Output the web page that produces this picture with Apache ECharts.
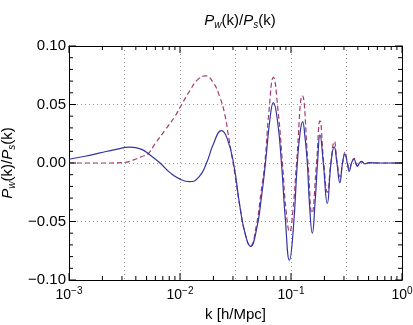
<!DOCTYPE html>
<html>
<head>
<meta charset="utf-8">
<script src="https://cdn.jsdelivr.net/npm/echarts@6/dist/echarts.min.js"></script>
<style>html,body{margin:0;padding:0;background:#fff;}#c{width:413px;height:325px;}</style>
</head>
<body>
<div id="c"></div>
<script>
// k values [h/Mpc] and ratio values
const kSolid = [0.001, 0.001393, 0.001901, 0.002594, 0.003548, 0.004457, 0.005370, 0.006607, 0.008128, 0.01,
  0.01219, 0.01483, 0.01734, 0.02004, 0.02366, 0.02649, 0.03034, 0.03475, 0.03855, 0.04315,
  0.04887, 0.05420, 0.05888, 0.06471, 0.06934, 0.07534, 0.08204, 0.08892, 0.09683, 0.1050,
  0.1140, 0.1205, 0.1271, 0.1337, 0.1403, 0.1469, 0.1556, 0.1644, 0.1734, 0.1824,
  0.1954, 0.2123, 0.2291, 0.2449, 0.2594, 0.2754, 0.2911, 0.3062, 0.3214, 0.3350,
  0.3508, 0.3698, 0.3828, 0.3954, 0.4140, 0.4315, 0.4645, 0.5047, 0.6339, 1.0];
const vSolid = [0.0032, 0.0058, 0.0086, 0.0114, 0.0135, 0.0119, 0.0068, 0.0, -0.0082, -0.0138,
  -0.0160, -0.0118, 0.0, 0.0165, 0.0277, 0.0215, 0.0, -0.038, -0.060, -0.0712,
  -0.057, -0.029, 0.0, 0.038, 0.0516, 0.037, 0.0, -0.048, -0.083, -0.056,
  0.0, 0.025, 0.0353, 0.022, 0.0, -0.036, -0.060, -0.035, 0.0, 0.024,
  0.0, -0.0345, 0.0, 0.0137, 0.0, -0.0168, 0.0, 0.0077, 0.0, -0.0071,
  0.0, 0.0034, 0.0, -0.0028, 0.0, 0.0012, -0.0008, 0.0003, 0.0, 0.0];

const kDashed = [0.001, 0.001901, 0.003126, 0.003776, 0.004519, 0.005152, 0.005957, 0.007328, 0.009016, 0.01035,
  0.01230, 0.01452, 0.01698, 0.01982, 0.02291, 0.02541, 0.02723, 0.02924, 0.03126, 0.03475,
  0.03855, 0.04315, 0.04842, 0.05370, 0.05808, 0.06339, 0.06934, 0.07638, 0.08375, 0.09016,
  0.09727, 0.1042, 0.1122, 0.1265, 0.1422, 0.1545, 0.1698, 0.1824, 0.1972, 0.2128,
  0.2286, 0.2455, 0.2606, 0.2761, 0.2917, 0.3062, 0.3221, 0.3357, 0.3516, 0.3698,
  0.3837, 0.3963, 0.4140, 0.4325, 0.4645, 0.5047, 0.6339, 1.0];
const vDashed = [0.0, 0.0, 0.0004, 0.0025, 0.0055, 0.0078, 0.0165, 0.0280, 0.0400, 0.0500,
  0.0620, 0.0715, 0.0745, 0.0690, 0.0560, 0.041, 0.024, 0.0068, -0.010, -0.038,
  -0.060, -0.0712, -0.055, -0.025, 0.0, 0.045, 0.0732, 0.045, 0.0, -0.040,
  -0.0587, -0.040, 0.0, 0.0575, 0.0, -0.043, 0.0, 0.036, 0.0, -0.025,
  0.0, 0.0185, 0.0, -0.0117, 0.0, 0.0092, 0.0, -0.0058, 0.0, 0.0040,
  0.0, -0.0023, 0.0, 0.0014, -0.0006, 0.0002, 0.0, 0.0];

// axis tick definitions
const kMin = 0.001, kMax = 1;
const decades = [0.001, 0.01, 0.1, 1];
const minorMult = [2, 3, 4, 5, 6, 7, 8, 9];
const yMin = -0.1, yMax = 0.1, yStep = 0.05, yMinorStep = 0.01;

const xTicks = [];   // [k, 0, isMajor]
decades.forEach((d, i) => {
  xTicks.push([d, 0, 1]);
  if (i < decades.length - 1) minorMult.forEach(m => xTicks.push([m * d, 0, 0]));
});
const yTickList = [];  // [value, isMajor]
for (let i = 0; i <= Math.round((yMax - yMin) / yMinorStep); i++) {
  const v = +(yMin + i * yMinorStep).toFixed(4);
  yTickList.push([v, i % Math.round(yStep / yMinorStep) === 0 ? 1 : 0]);
}

const FONT = 'Liberation Sans, Arial, Helvetica, sans-serif';
const pair = (ks, vs) => ks.map((k, i) => [k, vs[i]]);
const MAJOR = 7, MINOR = 4;
const TICK_COLOR = '#000';

const chart = echarts.init(document.getElementById('c'), null, { renderer: 'canvas' });

const ratioRich = {
  i: { fontFamily: FONT, fontSize: 15, fontStyle: 'italic', fontWeight: 'normal', color: '#000' },
  sb: { fontFamily: FONT, fontSize: 10, fontStyle: 'italic', fontWeight: 'normal', color: '#000', padding: [9, 0, 0, 0] },
  n: { fontFamily: FONT, fontSize: 15, fontWeight: 'normal', color: '#000' }
};
const ratioText = '{i|P}{sb|w}{n|(k)/}{i|P}{sb|s}{n|(k)}';

const xBase = {
  type: 'log', logBase: 10, min: kMin, max: kMax, gridIndex: 0,
  axisLine: { show: true, onZero: false, lineStyle: { color: '#000', width: 1 } },
  axisTick: { show: false }, splitLine: { show: false }, minorTick: { show: false }
};
const yBase = {
  type: 'value', min: yMin, max: yMax, interval: yStep,
  axisLine: { show: true, onZero: false, lineStyle: { color: '#000', width: 1 } },
  axisTick: { show: false }, minorTick: { show: false }
};
const gridLine = { show: true, lineStyle: { color: '#9a9a9a', width: 1, type: [1, 3] } };
const seg = (x1, y1, x2, y2) => ({
  type: 'line', shape: { x1: x1, y1: y1, x2: x2, y2: y2 },
  style: { stroke: TICK_COLOR, lineWidth: 1, fill: null }
});

chart.setOption({
  animation: false,
  backgroundColor: '#fff',
  title: {
    text: ratioText, left: 235, top: 6, textAlign: 'center',
    textStyle: { fontWeight: 'normal', rich: ratioRich }
  },
  grid: { left: 69, right: 11, top: 46, bottom: 45, containLabel: false, outerBoundsMode: 'none' },
  xAxis: [
    Object.assign({}, xBase, {
      position: 'bottom',
      name: 'k [h/Mpc]', nameLocation: 'middle', nameGap: 27,
      nameTextStyle: { fontFamily: FONT, fontSize: 15, color: '#000' },
      axisLabel: {
        show: true, margin: 6,
        formatter: v => '{b|10}{s|' + String(Math.round(Math.log10(v))).replace('-', '\u2212') + '}',
        rich: {
          b: { fontFamily: FONT, fontSize: 14, color: '#000' },
          s: { fontFamily: FONT, fontSize: 10, color: '#000', padding: [0, 0, 9, 0] }
        }
      }
    }),
    Object.assign({}, xBase, { position: 'top', axisLabel: { show: false } }),
    {
      type: 'value', min: Math.log10(kMin), max: Math.log10(kMax), interval: 0.5, gridIndex: 0, position: 'bottom',
      axisLine: { show: false, onZero: false }, axisTick: { show: false }, axisLabel: { show: false },
      splitLine: gridLine
    }
  ],
  yAxis: [
    Object.assign({}, yBase, {
      position: 'left',
      name: ratioText, nameLocation: 'middle', nameGap: 46,
      nameTextStyle: { rich: ratioRich },
      axisLabel: {
        show: true, margin: 3, fontFamily: FONT, fontSize: 15, color: '#000',
        formatter: v => (v < -1e-9 ? '\u2212' : '') + Math.abs(v).toFixed(2)
      },
      splitLine: gridLine
    }),
    Object.assign({}, yBase, { position: 'right', axisLabel: { show: false }, splitLine: { show: false } })
  ],
  series: [
    {
      name: 'x ticks', type: 'custom', xAxisIndex: 0, yAxisIndex: 0, silent: true, z: 5, clip: false,
      data: xTicks,
      renderItem: (params, api) => {
        const x = api.coord([api.value(0), 0])[0];
        const cs = params.coordSys;
        const len = api.value(2) ? MAJOR : MINOR;
        const b = cs.y + cs.height, t = cs.y;
        return { type: 'group', children: [seg(x, b, x, b - len), seg(x, t, x, t + len)] };
      }
    },
    {
      name: 'dashed', type: 'line', xAxisIndex: 0, yAxisIndex: 0,
      data: pair(kDashed, vDashed), showSymbol: false, smooth: 0.5, z: 3,
      lineStyle: { color: '#a33a72', width: 1.2, type: [5, 3] }
    },
    {
      name: 'solid', type: 'line', xAxisIndex: 0, yAxisIndex: 0,
      data: pair(kSolid, vSolid), showSymbol: false, smooth: 0.5, z: 4,
      lineStyle: { color: '#3434a2', width: 1.2 }
    }
  ]
});

// y-axis ticks (left and right frame), positioned through the y axis scale
const xl = chart.convertToPixel({ xAxisIndex: 0 }, kMin);
const xr = chart.convertToPixel({ xAxisIndex: 0 }, kMax);
const yTickGraphics = [];
yTickList.forEach(t => {
  const y = chart.convertToPixel({ yAxisIndex: 0 }, t[0]);
  const len = t[1] ? MAJOR : MINOR;
  yTickGraphics.push(Object.assign(seg(xl, y, xl + len, y), { z: 100, silent: true }));
  yTickGraphics.push(Object.assign(seg(xr, y, xr - len, y), { z: 100, silent: true }));
});
chart.setOption({ graphic: yTickGraphics });
</script>
</body>
</html>
